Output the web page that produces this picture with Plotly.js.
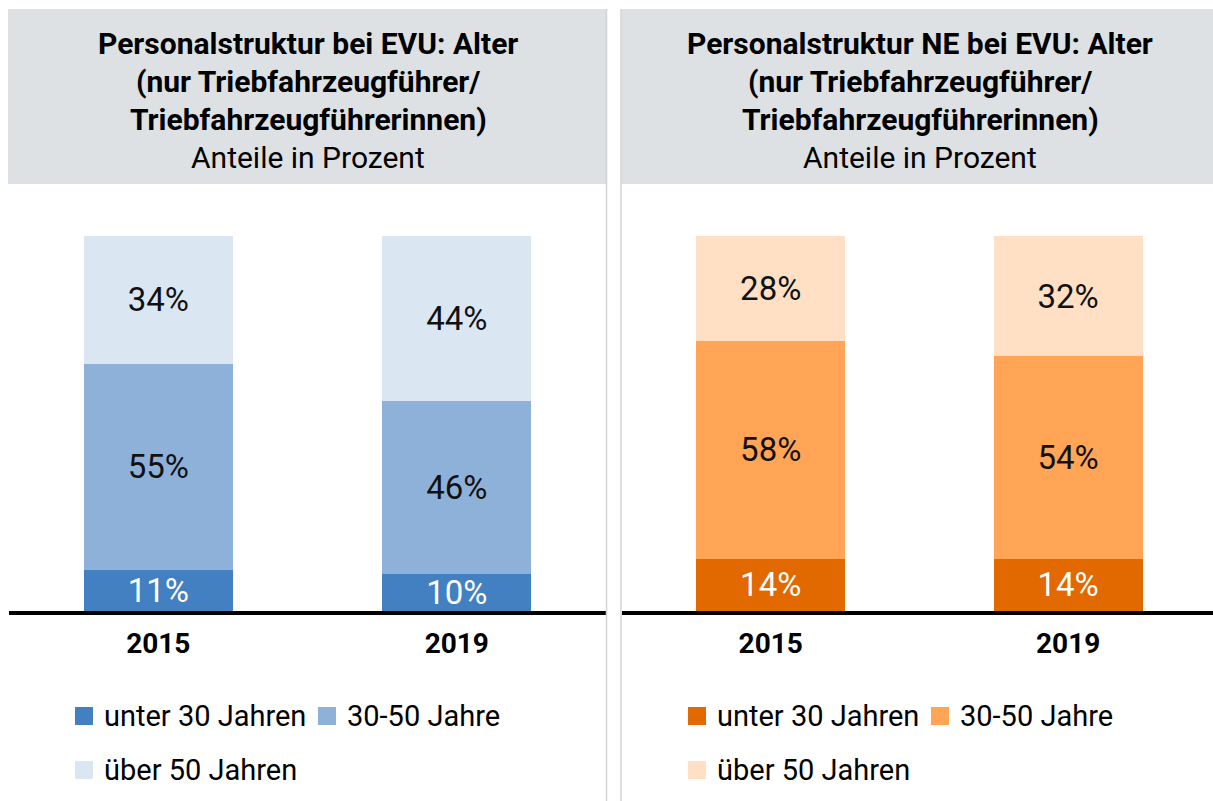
<!DOCTYPE html>
<html>
<head>
<meta charset="utf-8">
<script src="https://cdn.plot.ly/plotly-3.0.1.min.js"></script>
<style>
html,body{margin:0;padding:0;background:#fff;}
#chart{width:1213px;height:801px;}
</style>
</head>
<body>
<div id="chart"></div>
<script>
// ---- data ----
var years = ["2015", "2019"];
var seriesNames = ["unter 30 Jahren", "30-50 Jahre", "über 50 Jahren"];
var evuUnder30 = [11, 10];
var evu30to50 = [55, 46];
var evuOver50 = [34, 44];
var neUnder30 = [14, 14];
var ne30to50 = [58, 54];
var neOver50 = [28, 32];
var titleLeft = ["Personalstruktur bei EVU: Alter", "(nur Triebfahrzeugführer/", "Triebfahrzeugführerinnen)", "Anteile in Prozent"];
var titleRight = ["Personalstruktur NE bei EVU: Alter", "(nur Triebfahrzeugführer/", "Triebfahrzeugführerinnen)", "Anteile in Prozent"];
var blueColors = ["#4280c1", "#8eb1da", "#dbe6f3"];
var orangeColors = ["#e16900", "#ffa555", "#ffe0c4"];
var labelColors = ["#ffffff", "#111111", "#111111"];

// ---- layout helpers ----
var W = 1213, H = 801;
function px(x){ return x / W; }
function py(y){ return 1 - y / H; }
var FONT = "Roboto, 'Noto Sans', sans-serif";

function barTrace(vals, name, color, txtColor, xa, ya){
  return {
    type: "bar", x: years, y: vals, name: name,
    xaxis: xa, yaxis: ya,
    marker: {color: color, line: {width: 0}},
    texttemplate: "%{y}%", textposition: "inside", insidetextanchor: "middle",
    constraintext: "none",
    textfont: {family: FONT, size: 33, color: txtColor},
    hoverinfo: "skip", showlegend: false
  };
}

var leftSeries = [evuUnder30, evu30to50, evuOver50];
var rightSeries = [neUnder30, ne30to50, neOver50];
var data = [];
for (var i = 0; i < 3; i++) data.push(barTrace(leftSeries[i], seriesNames[i], blueColors[i], labelColors[i], "x", "y"));
for (var j = 0; j < 3; j++) data.push(barTrace(rightSeries[j], seriesNames[j], orangeColors[j], labelColors[j], "x2", "y2"));

var shapes = [
  {type:"rect", xref:"paper", yref:"paper", x0:px(8), x1:px(606), y0:py(184), y1:py(9), fillcolor:"#dde1e4", line:{width:0}, layer:"below"},
  {type:"rect", xref:"paper", yref:"paper", x0:px(621), x1:px(1213), y0:py(184), y1:py(9), fillcolor:"#dde1e4", line:{width:0}, layer:"below"},
  {type:"line", xref:"paper", yref:"paper", x0:px(606.5), x1:px(606.5), y0:py(801), y1:py(9), line:{color:"#d4d4d4", width:1.5}},
  {type:"line", xref:"paper", yref:"paper", x0:px(621), x1:px(621), y0:py(801), y1:py(9), line:{color:"#d4d4d4", width:1.5}}
];

var annotations = [];
function addTitle(lines, cx){
  var ys = [43, 81, 119, 157];
  for (var k = 0; k < lines.length; k++){
    annotations.push({
      xref:"paper", yref:"paper", x:px(cx), y:py(ys[k]), xanchor:"center", yanchor:"middle",
      text: k < 3 ? "<b>" + lines[k] + "</b>" : lines[k], showarrow:false,
      font:{family:FONT, size:30, color:"#000"}
    });
  }
}
addTitle(titleLeft, 308);
addTitle(titleRight, 920);

// manual legends
function addLegend(colors, pos){
  for (var k = 0; k < 3; k++){
    var p = pos[k];
    shapes.push({type:"rect", xref:"paper", yref:"paper", x0:px(p[0]), x1:px(p[0]+18), y0:py(p[1]+9), y1:py(p[1]-9), fillcolor:colors[k], line:{width:0}});
    annotations.push({xref:"paper", yref:"paper", x:px(p[0]+27), y:py(p[1]), xanchor:"left", yanchor:"middle",
      text: seriesNames[k], showarrow:false, font:{family:FONT, size:29, color:"#000"}});
  }
}
addLegend(blueColors, [[75,716],[318,716],[75,770]]);
addLegend(orangeColors, [[688,716],[931,716],[688,770]]);

var yBottom = py(611), yTop = py(236);
var layout = {
  width: W, height: H,
  margin: {l:0, r:0, t:0, b:0},
  paper_bgcolor: "#fff", plot_bgcolor: "rgba(0,0,0,0)",
  barmode: "stack", bargap: 0.5,
  showlegend: false,
  xaxis: {domain:[px(9), px(606)], range:[-0.5, 1.5], type:"category", showline:true, linecolor:"#000", linewidth:4,
          ticks:"outside", ticklen:4, tickcolor:"rgba(0,0,0,0)", tickfont:{family:FONT, size:28, color:"#000"},
          tickprefix:"<b>", ticksuffix:"</b>", showgrid:false, zeroline:false, fixedrange:true, anchor:"y"},
  yaxis: {domain:[yBottom, yTop], range:[0,100], visible:false, fixedrange:true, anchor:"x"},
  xaxis2: {domain:[px(622), px(1213)], range:[-0.5, 1.487], type:"category", showline:true, linecolor:"#000", linewidth:4,
          ticks:"outside", ticklen:4, tickcolor:"rgba(0,0,0,0)", tickfont:{family:FONT, size:28, color:"#000"},
          tickprefix:"<b>", ticksuffix:"</b>", showgrid:false, zeroline:false, fixedrange:true, anchor:"y2"},
  yaxis2: {domain:[yBottom, yTop], range:[0,100], visible:false, fixedrange:true, anchor:"x2"},
  shapes: shapes,
  annotations: annotations,
  font: {family: FONT}
};

Plotly.newPlot("chart", data, layout, {displayModeBar:false, staticPlot:true});
</script>
</body>
</html>
